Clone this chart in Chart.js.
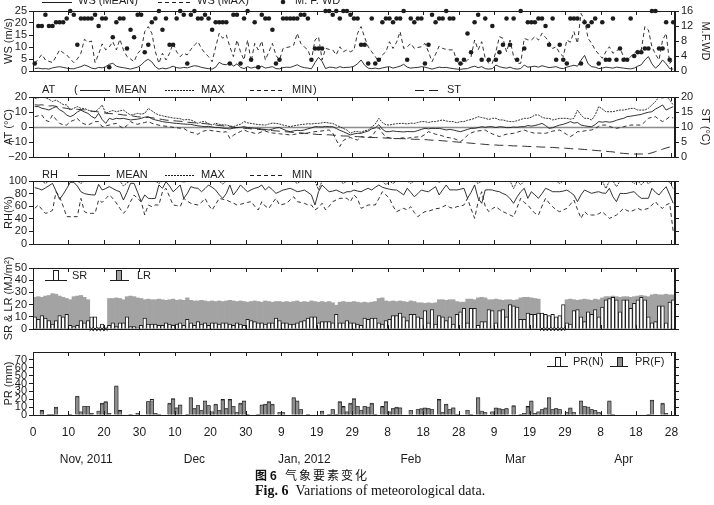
<!DOCTYPE html>
<html>
<head>
<meta charset="utf-8">
<script src="https://cdn.jsdelivr.net/npm/chart.js@4.4.0/dist/chart.umd.min.js"></script>
<style>
body { margin: 0; background: #fff; }
#wrap { position: relative; width: 714px; height: 505px; overflow: hidden; background: #fff; }
canvas { position: absolute; left: 0; }
.cap { position: absolute; left: 255px; color: #111; white-space: nowrap; line-height: 1; }
</style>
</head>
<body>
<div id="wrap">
  <canvas id="p1" width="714" height="88" style="top:-5px"></canvas>
  <canvas id="p2" width="714" height="88" style="top:81px"></canvas>
  <canvas id="p3" width="714" height="91" style="top:165px"></canvas>
  <canvas id="p4" width="714" height="89" style="top:252px"></canvas>
  <canvas id="p5" width="714" height="169" style="top:336px"></canvas>
  <div class="cap" style="top:469px;font-size:12px;font-family:'Noto Sans CJK SC',sans-serif"><b>图 6</b>&nbsp;&nbsp;&nbsp;<span style="letter-spacing:2px">气象要素变化</span></div>
  <div class="cap" style="top:484px;font-size:14px;font-family:'Liberation Serif','Times New Roman',serif"><b>Fig. 6</b>&nbsp;&nbsp;Variations of meteorological data.</div>
</div>
<script>
// axis ticks shared by all panels (x = days since 31 Oct 2011)
const xTickValues = [0, 10, 20, 30, 40, 50, 60, 70, 80, 90, 100, 110, 120, 130, 140, 150, 160, 170, 180];
const xTickLabels = ['0', '10', '20', '30', '10', '20', '30', '9', '19', '29', '8', '18', '28', '9', '19', '29', '8', '18', '28'];
const monthLabels = ['Nov, 2011', 'Dec', 'Jan, 2012', 'Feb', 'Mar', 'Apr'];
const monthMid = [15, 45.5, 76.5, 106.5, 136, 166.5];

// wind speed (m/s) and most frequent wind direction (1-16)
const wsMean = [
  1.0, 1.2, 0.9, 1.0, 0.8, 1.3, 1.6, 1.8, 1.5, 1.2,
  1.0, 0.9, 1.4, 1.8, 2.5, 2.0, 1.2, 0.9, 1.5, 1.3,
  1.8, 2.8, 3.2, 2.0, 1.6, 1.4, 1.1, 0.8, 1.2, 1.6,
  2.5, 4.0, 4.9, 3.8, 1.8, 0.8, 1.2, 0.9, 1.4, 2.0,
  1.4, 1.2, 1.5, 1.3, 1.8, 2.2, 2.0, 1.5, 1.2, 1.0,
  0.8, 1.6, 3.6, 2.8, 2.6, 3.6, 2.0, 3.0, 1.5, 1.0,
  1.8, 1.2, 1.6, 1.4, 2.0, 1.2, 1.5, 1.8, 1.0, 0.9,
  1.4, 1.6, 1.5, 2.0, 2.6, 1.8, 1.4, 1.2, 0.9, 3.5,
  5.7, 4.0, 1.0, 1.6, 1.5, 1.2, 1.8, 1.4, 1.5, 1.6,
  2.0, 3.0, 4.6, 2.4, 1.2, 1.0, 1.2, 0.9, 1.3, 1.6,
  1.8, 1.2, 1.6, 2.0, 2.8, 1.6, 1.2, 1.4, 1.5, 1.8,
  1.6, 1.2, 0.8, 1.2, 1.6, 1.4, 1.5, 1.2, 1.0, 0.8,
  0.7, 0.9, 1.0, 1.6, 2.0, 1.4, 1.8, 1.0, 0.8, 1.0,
  2.5, 1.8, 1.4, 1.2, 1.6, 1.0, 0.8, 1.0, 2.5, 1.6,
  1.8, 2.0, 1.6, 2.2, 1.8, 1.4, 1.6, 1.8, 1.2, 1.0,
  1.6, 2.0, 2.4, 2.0, 4.5, 6.5, 3.0, 1.8, 1.6, 1.0,
  1.2, 1.6, 1.4, 1.2, 1.6, 1.4, 1.2, 1.0, 0.9, 1.2,
  2.0, 2.6, 4.6, 6.0, 3.0, 1.2, 2.5, 4.6, 3.0, 1.0, 0.8
];
const wsMax = [
  3.2, 5, 6.9, 4.6, 4, 3.5, 6, 8.8, 7.6, 6.7,
  5, 3.5, 5, 7.4, 13.2, 12, 12.5, 3.5, 7, 11.3,
  8.8, 10, 12.2, 8.8, 13.2, 8.8, 6, 5, 3.9, 7.4,
  8.8, 16.4, 18.5, 15.7, 8, 3.2, 7.4, 4.6, 7.4, 11.5,
  8, 6, 7.4, 6.7, 9, 10.8, 12.2, 9.4, 7.4, 6,
  3.9, 10, 15.7, 13.6, 15, 10.1, 6, 12.9, 8, 4.6,
  12.9, 3.9, 11.5, 8.8, 12.5, 4.6, 8, 11.5, 6.5, 4.6,
  9.4, 9.8, 10.1, 10.8, 15.7, 11.5, 10, 8.8, 4.6, 12.9,
  14.3, 4.6, 9.4, 9, 8.8, 6.7, 10.1, 8, 8.8, 8,
  8.8, 15.7, 18.5, 14, 10.1, 8, 6, 3.9, 6.7, 8,
  12.2, 9.4, 12, 16.4, 9.4, 10, 11.5, 9.4, 9.8, 10.1,
  11.5, 8, 3.9, 7, 10.4, 9.4, 9, 8.8, 8.8, 3.9,
  2.5, 3.2, 4.5, 6, 12.9, 8.8, 12.2, 5.3, 3.2, 3.2,
  8, 14.3, 13.6, 8, 12.9, 6, 3.2, 3.2, 13.6, 13,
  12.9, 14.3, 12.9, 15.7, 14, 12.2, 9.4, 10.1, 7.4, 6,
  12.9, 12, 16.4, 11.5, 24, 21.3, 13.6, 11.5, 8.8, 7,
  5.3, 8, 10.1, 7.4, 8.4, 9.4, 6, 4.6, 6, 7.4,
  8.8, 8.8, 18.5, 17.1, 10.1, 7, 4.6, 12.9, 15.7, 3.2, 4.6
];
const mfwd = [
  2, 12, 12, 15, 12, 12, 13, 13, 13, 14,
  16, 15, 7, 14, 14, 14, 14, 15, 12, 14,
  14, 1, 9, 13, 14, 14, 6, 11, 9, 15,
  15, 5, 7, 13, 14, 16, 11, 14, 7, 7,
  14, 16, 15, 2, 15, 16, 14, 14, 15, 14,
  11, 13, 13, 13, 13, 2, 15, 15, 2, 14,
  16, 3, 13, 1, 15, 14, 14, 11, 2, 3,
  14, 14, 14, 14, 14, 15, 15, 14, 3, 6,
  6, 6, 16, 16, 15, 16, 14, 16, 16, 15,
  14, 14, 7, 7, 2, 14, 2, 3, 13, 14,
  14, 13, 14, 14, 16, 3, 14, 13, 14, 14,
  2, 7, 15, 13, 14, 14, 16, 14, 14, 3,
  2, 3, 10, 5, 13, 15, 3, 14, 3, 12,
  3, 5, 7, 14, 7, 14, 3, 16, 6, 13,
  13, 13, 14, 14, 12, 7, 14, 3, 7, 3,
  2, 14, 14, 14, 2, 13, 12, 13, 14, 2,
  13, 3, 3, 14, 3, 6, 3, 3, 14, 4,
  5, 5, 6, 6, 16, 16, 6, 6, 13, 3, 13
];

// air temperature (°C) and soil temperature (°C)
const atMean = [
  13.6, 13.6, 12.5, 12, 11.3, 12.5, 13.6, 11.5, 10.2, 8,
  6.9, 8, 10, 11.3, 10, 9.1, 7, 5.8, 9.1, 5,
  2.4, 5.8, 5, 5.8, 5.5, 5.8, 5.2, 4.7, 5, 5.2,
  5.8, 6.5, 6.9, 5.5, 4.7, 4.2, 3.6, 3.2, 3, 2.6,
  2.4, 2.2, 2, 1.8, 1.8, 1.2, 0.8, 0.5, 0.2, 0.4,
  0, -0.4, -0.4, -0.8, -1, -1.3, -0.8, -0.4, -0.2, 0.2,
  -0.4, -0.6, -0.9, -0.9, -1.4, -1.6, -2, -1.4, -0.6, -0.4,
  -1.5, -2.5, -3.1, -2.6, -2.2, -2.4, -2, -1.2, -0.6, 0.2,
  0.2, 0, 0.4, 0.2, 0.2, -1, -2.2, -3.1, -4.2, -5.3,
  -4.6, -4.2, -4.2, -3.4, -2.7, -1.2, -0.6, 1.5, -1.5, -3.1,
  -3.1, -2.6, -3, -3.1, -3.3, -3, -3.1, -3.1, -2.4, -1.6,
  -0.9, -1.2, -0.9, -1, -0.9, -1.4, -2, -1.6, -2, -2.6,
  -3.1, -2.4, -1.6, -0.9, -0.9, -0.4, 0.2, -0.2, 0.2, 0.2,
  -0.4, 0.2, 0, -0.4, -0.4, 0, -0.2, 0.2, 0.2, 1,
  0.6, 1, 1.6, 2.4, 1, -0.9, -0.5, 0.5, 1.3, 1.8,
  2.6, 3.6, 2.6, 3, 1.3, 0.8, 0.4, 0.2, 1.6, 3.6,
  3.2, 3.6, 3.2, 3.6, 4.5, 5.2, 5.8, 6.9, 7.2, 7.6,
  8, 8.4, 9.2, 9.8, 10.2, 12, 13.2, 14.7, 11.3, 12.5, 13.6
];
const atMax = [
  19, 19.5, 20, 19.5, 18.5, 17, 18, 16.5, 15, 14.7,
  11.3, 12.5, 13.6, 12.4, 12.4, 11.3, 10.5, 10.2, 12, 14.7,
  9.1, 10.2, 11, 10.2, 10.8, 11.3, 9.5, 8, 8.5, 9.1,
  8.6, 9.1, 12.4, 10.8, 9.1, 8, 7.5, 6.9, 6.5, 6,
  5.8, 5.5, 4.7, 5, 4.7, 3.6, 2.4, 3.5, 3.6, 2.2,
  1.3, 2.5, 1.8, 1.5, 1.3, 0.8, 0.2, 1.2, 1.8, 3.6,
  2.8, 2.4, 2, 1.6, 1.5, 1.3, 2, 2.6, 2.4, 2,
  1.3, 0.8, 0.2, 0.8, 1.2, 1.6, 1.8, 2.2, 2, 2.4,
  2.4, 2.8, 3.1, 2.6, 2.4, 1.2, 0.2, -1, -2, -4.2,
  -3.1, -3, -3.5, -2.5, -2, 0, 2, 5.8, 3, 1.5,
  1.3, 1.8, 2.2, 2.4, 2.4, 2, 2.6, 2.4, 3, 3.6,
  3.6, 3, 3.6, 3.6, 4.2, 4.7, 4, 3.6, 3.6, 2.8,
  3.6, 3.6, 4.5, 5, 5.8, 6.9, 6.3, 5.8, 5, 5.8,
  5.8, 4.7, 4.7, 4, 3.6, 3.6, 4.2, 5, 5.8, 5.8,
  6.5, 8, 8, 6.5, 5.8, 5.8, 4.7, 5.2, 5.8, 5.8,
  5.8, 5.2, 5.8, 11.3, 8, 5.8, 5.8, 4.7, 8, 13.6,
  12, 10.2, 10.2, 10.2, 10.8, 11.3, 11.3, 11.8, 12.4, 12.4,
  11.3, 11.3, 11.3, 12.5, 14.7, 17, 20.2, 19.1, 20.5, 18, 14.7
];
const atMin = [
  6.9, 7.5, 8, 4.5, 3.6, 8, 5, 2.4, 1.5, 1.3,
  3.6, 4.5, 5.8, 3, 2, 1.3, 2.5, 3.6, 3.6, 0.2,
  0.8, 1.3, 2, 2.4, 0.5, -0.9, 1, 3.6, 2.4, 1.8,
  2.5, 3, 3.6, 2.5, 1.8, 1.2, 0.8, 0.5, 0.2, -0.2,
  -0.5, -0.8, -0.9, -2.5, -3.5, -4, -4.9, -3.1, -2.5, -2,
  -2.5, -2.8, -3.1, -3.5, -3.1, -7.6, -5.5, -4.2, -3, -2,
  -3, -3.5, -4.2, -4.2, -3.2, -2.7, -3.5, -4, -4.2, -4.5,
  -4.8, -5, -5.3, -5, -4.5, -4.2, -4.2, -4, -3.5, -3.1,
  -3, -2.6, -2.2, -2, -4, -8.7, -13, -9, -7.6, -7,
  -8, -8.7, -6.4, -6.8, -7, -6.4, -3, -0.5, -4, -6.8,
  -7.2, -7.6, -7.8, -7.4, -7.2, -7.6, -7, -6.8, -6.6, -6.4,
  -5, -3.1, -4, -4.8, -5.3, -6, -6.8, -7.2, -7.6, -8.5,
  -9.8, -8, -5.5, -4, -3.1, -2.6, -2.4, -2, -3.5, -4.6,
  -5.5, -6.4, -5.5, -4.8, -4.5, -4.2, -3.5, -2.8, -2, -3,
  -3.6, -4.2, -4, -4.2, -4.2, -3.6, -2.8, -2.4, -2, -3.5,
  -5, -6.4, -5, -3.1, -3.1, -2.6, -2.2, -2, -1, 0.5,
  1.3, 1.3, 0.4, -0.4, -0.9, -0.4, 0.2, 0.8, 1.3, 1.3,
  1.3, 1.3, 3.5, 5.8, 6.4, 6.9, 5, 3.6, 5, 6.9, 6
];
const st = [
  17.4, 17.3, 17.4, 17.2, 17, 17.1, 16.9, 16.6, 16.4, 16.2,
  16, 15.9, 15.9, 15.8, 15.7, 15.5, 15.3, 15.2, 15, 14.8,
  14.6, 14.5, 14.4, 14.3, 14.2, 14, 13.9, 13.8, 13.6, 13.4,
  13.3, 13.2, 13.2, 13.1, 12.9, 12.7, 12.5, 12.3, 12.2, 12.1,
  12, 11.9, 11.8, 11.6, 11.5, 11.4, 11.3, 11.2, 11.1, 11,
  10.8, 10.7, 10.5, 10.4, 10.2, 10.1, 9.9, 9.8, 9.7, 9.6,
  9.5, 9.4, 9.3, 9.2, 9.1, 9, 8.9, 8.8, 8.7, 8.6,
  8.5, 8.4, 8.3, 8.2, 8.1, 8, 7.9, 7.8, 7.7, 7.6,
  7.5, 7.5, 7.4, 7.4, 7.3, 7.2, 7.1, 7, 7, 6.9,
  6.8, 6.8, 6.7, 6.6, 6.6, 6.5, 6.5, 6.4, 6.4, 6.3,
  6.3, 6.2, 6.2, 6.1, 6.1, 6, 6, 5.9, 5.9, 5.8,
  5.8, 5.7, 5.6, 5.6, 5.5, 5.4, 5.3, 5.2, 5.1, 5,
  4.9, 4.8, 4.7, 4.6, 4.5, 4.4, 4.3, 4.2, 4.1, 4,
  4, 3.9, 3.9, 3.8, 3.8, 3.7, 3.7, 3.6, 3.6, 3.5,
  3.5, 3.4, 3.4, 3.3, 3.3, 3.2, 3.2, 3.1, 3, 3,
  2.9, 2.8, 2.7, 2.7, 2.6, 2.5, 2.4, 2.3, 2.2, 2.1,
  2, 1.9, 1.8, 1.7, 1.5, 1.3, 1.2, 1.1, 1, 1,
  1, 1, 1, 1.1, 1.4, 1.8, 2.2, 2.6, 3, 3.3, 3.6
];

// relative humidity (%)
const rhMean = [
  89.4, 88, 85.7, 89, 92.6, 96.3, 84, 70.9, 78.8, 88,
  97.9, 97.9, 92, 83, 80, 78.8, 78, 77.8, 94.7, 85.7,
  88, 91, 88, 85, 83, 69.8, 82, 96.3, 96.3, 82,
  67.2, 77.8, 72.5, 72, 72.5, 93.7, 88.4, 98.9, 92, 83,
  88, 93.7, 72.5, 80, 91, 89, 88.4, 83, 88, 93.7,
  90, 85.7, 78, 72.5, 80, 93.7, 77.8, 85, 93.7, 88,
  83, 86, 88.4, 90, 93.7, 85.7, 91, 86, 80.4, 83,
  85.7, 87, 88.4, 86, 83, 84, 85.7, 82, 77.8, 61.9,
  83, 93.7, 88, 83, 84, 85.7, 83, 80.4, 83, 83,
  85.7, 84, 83, 86, 88.4, 85.7, 90, 93.7, 90, 88.4,
  87, 86, 85.7, 82, 77.8, 88.4, 82, 75, 80, 85.7,
  84, 83, 87, 91, 77.8, 86, 93.7, 85.7, 86, 85.7,
  87, 88.4, 72.5, 82, 93.7, 72.5, 64.6, 85.7, 86, 85.7,
  84, 83, 80, 77.8, 72, 64.6, 75, 83, 88.4, 72.5,
  83, 78, 72.5, 80, 88.4, 86, 83, 83, 83, 84,
  85.7, 82, 77.8, 67.2, 78, 85.7, 83, 80.4, 82, 83,
  81, 80.4, 88.4, 75, 67.2, 80.4, 80, 80.4, 82, 83,
  77, 72.5, 72.5, 72.5, 88.4, 82, 77.8, 85, 91, 78, 64.6
];
const rhMax = [
  100, 100, 100, 96, 100, 100, 100, 100, 100, 100,
  100, 100, 100, 96, 100, 100, 100, 100, 100, 100,
  100, 100, 100, 100, 100, 92, 97, 100, 100, 100,
  100, 100, 100, 100, 100, 96, 100, 100, 100, 100,
  100, 100, 98, 100, 100, 100, 100, 100, 100, 100,
  100, 100, 100, 95, 100, 100, 100, 100, 100, 100,
  100, 100, 100, 100, 100, 100, 100, 100, 100, 100,
  100, 100, 100, 100, 96, 100, 100, 100, 100, 100,
  86, 100, 100, 100, 100, 100, 100, 96, 100, 100,
  100, 98, 100, 100, 100, 100, 100, 100, 100, 94,
  100, 96, 100, 100, 100, 100, 96, 100, 100, 100,
  100, 100, 100, 100, 98, 100, 100, 100, 100, 100,
  100, 100, 100, 100, 100, 96, 100, 100, 100, 100,
  100, 100, 100, 100, 100, 88, 100, 94, 100, 100,
  100, 100, 100, 100, 100, 100, 100, 100, 96, 100,
  100, 100, 100, 100, 100, 100, 100, 100, 100, 100,
  100, 88, 100, 100, 91, 100, 100, 100, 100, 96,
  100, 94, 100, 96, 100, 100, 100, 100, 100, 98, 88
];
const rhMin = [
  56.6, 61.9, 55, 48.7, 50, 53.4, 83, 75, 60, 43.4,
  43.4, 43.4, 43.4, 72.5, 51.3, 48.7, 48.7, 48.7, 69.8, 66,
  72, 77.8, 72.5, 65, 56.6, 48.7, 55, 67.2, 77.8, 72,
  67.2, 46, 61.9, 59.3, 62, 61.9, 83, 88.4, 75, 61.9,
  61, 59.3, 72.5, 68, 64.6, 63, 61.9, 66, 72.5, 62,
  54, 63, 72.5, 71, 69.8, 67.2, 65, 61.9, 63, 64.6,
  66, 67.2, 60, 54, 67.2, 60, 56.6, 65, 72.5, 61.9,
  63, 64.6, 70, 75, 67.2, 66, 64.6, 62, 61.9, 54,
  58, 64.6, 54, 60, 67.2, 70, 72.5, 72.5, 72.5, 67.2,
  77.8, 72, 56.6, 59, 61.9, 62, 61.9, 72, 83, 78,
  72.5, 60, 51.3, 54, 56.6, 54, 59.3, 50, 43.4, 48,
  51.3, 52, 54, 56, 56.6, 59, 61.9, 58, 56.6, 59.3,
  60, 61.9, 72.5, 56, 40.7, 67.2, 83, 60, 51.3, 56,
  59.3, 55, 51.3, 48.7, 46, 43.4, 58, 72.5, 66, 61.9,
  55, 48.7, 46, 60, 72.5, 65, 59.3, 54, 51.3, 54,
  56.6, 63, 69.8, 55, 40.7, 51.3, 46, 46, 46, 48,
  51.3, 46, 40.7, 43, 46, 51, 56.6, 53, 51.3, 54,
  56.6, 54, 55, 56.6, 62, 67.2, 60, 56.6, 62, 64.6, 19.6
];

// solar and long-wave radiation (MJ/m2), null = not recorded
const sr = [
  10, 8, 11, 9, 7, 4, 7, 11, 10, 12,
  3, 2, 3, 7, 5, 7, 10, 10, 1, 4,
  1, 3, 5, 2, 5, 5, 10, 2, 2, 1,
  3, 9, 4, 4, 4, 3, 3, 5, 4, 3,
  4, 5, 3, 8, 5, 3, 6, 4, 5, 3,
  5, 5, 4, 5, 5, 4, 3, 5, 4, 3,
  8, 7, 6, 5, 5, 4, 5, 5, 9, 7,
  5, 5, 4, 4, 5, 6, 7, 9, 10, 10,
  5, 6, 6, 6, 5, 12, 5, 5, 7, 5,
  5, 4, 3, 9, 8, 9, 9, 5, 4, 7,
  8, 11, 11, 13, 10, 7, 12, 12, 10, 9,
  15, 5, 16, 4, 11, 10, 7, 10, 4, 12,
  14, 17, 5, 17, 17, 3, 6, 6, 16, 15,
  5, 15, 16, 10, 20, 19, 18, 8, 8, 13,
  12, 12, 13, 13, 12, 11, 12, 10, 11, 20,
  5, 4, 15, 16, 10, 6, 14, 12, 16, 10,
  18, 24, 25, 26, 24, 14, 24, 24, 17, 21,
  24, 26, 24, 10, 5, 6, 19, 19, 5, 22, 24
];
const lr = [
  26, 26.5, 26, 27, 27.5, 29, 28.5, 27, 26, 25,
  24, 26.5, 27, 27.5, 26, 24, null, null, null, null,
  null, 25, 25, 25.5, 25, 24, 26.5, 27, 26.5, 25.5,
  25, 24, 24.5, 24, 24, 24.5, 24, 23.5, 24, 24.5,
  23.5, 24, 23.5, 25.5, 23.5, 23, 23, 23.5, 23, 22.5,
  23, 22.5, 23, 22.5, 23, 23.5, 23, 22.5, 23, 22.5,
  22, 22.5, 23, 22.5, 22, 23, 22.5, 22, 22.5, 22.5,
  22, 22.5, 22, 22.5, 23, 22, 22.5, 22, 23, 22.5,
  22, 22.5, 22, 22.5, 21.5, 19.5, 22, 22.5, 22, 22,
  22.5, 22, 21.5, 22, 21.5, 22, 22.5, 25, 25.5, 23,
  22.5, 23, 22.5, 23, 22.5, 22, 23, 22.5, 21.5, 21.5,
  21, 21.5, 21, 21.5, 24, 24, 23.5, 24, 24, 22.5,
  22, 22, 24.5, 24.5, 24, 25.5, 26, 25.5, 24, 24,
  24.5, 24, 23.5, 24, 24, 23.5, 24, 25.5, 26, 26,
  25.5, 25, 24.5, null, null, null, null, null, null, null,
  24, 24.5, 24, 23.5, 24, 24.5, 24, 23.5, 24.5, 24,
  25.5, 26.5, 26.5, 27, 26.5, 26, 26.5, 26.5, 26, 26.5,
  27, 27.5, 27, 26.5, 28, 28.5, 28, 28, 28.5, 28, 28
];

// precipitation (mm): N and F gauges
const prN = [
  0, 0, 6, 0, 1, 1, 10, 0, 0, 0,
  1, 0, 24, 4, 11, 11, 2, 0, 5, 15,
  17, 2, 0, 37, 6, 0, 0, 1, 0, 2,
  0, 0, 17, 20, 2, 1, 0, 0, 15, 21,
  9, 13, 0, 1, 22, 8, 12, 6, 18, 12,
  4, 14, 6, 20, 8, 20, 11, 3, 15, 18,
  1, 0, 0, 1, 13, 14, 17, 14, 0, 3,
  3, 0, 0, 22, 18, 7, 0, 1, 0, 0,
  0, 5, 0, 1, 7, 1, 17, 11, 4, 15,
  21, 11, 6, 11, 10, 15, 1, 0, 11, 17,
  4, 8, 10, 9, 0, 0, 6, 0, 7, 8,
  9, 8, 7, 0, 20, 3, 14, 7, 9, 1,
  0, 0, 6, 1, 0, 22, 5, 3, 0, 4,
  9, 8, 7, 8, 0, 12, 0, 1, 2, 11,
  18, 2, 4, 7, 9, 22, 7, 8, 7, 0,
  3, 9, 3, 0, 18, 11, 10, 7, 6, 3,
  0, 0, 18, 1, 0, 0, 0, 0, 0, 0,
  0, 0, 0, 1, 19, 0, 0, 15, 2, 0, 0
];
const prF = [
  0, 0, 5, 0, 1, 1, 9, 0, 0, 0,
  1, 0, 23, 4, 11, 11, 2, 0, 5, 14,
  16, 2, 0, 36, 5, 0, 0, 1, 0, 2,
  0, 0, 17, 18, 2, 1, 0, 0, 14, 20,
  9, 12, 0, 1, 21, 8, 12, 6, 17, 12,
  4, 13, 6, 19, 8, 19, 11, 3, 14, 17,
  1, 0, 0, 1, 12, 13, 16, 13, 0, 3,
  3, 0, 0, 21, 17, 7, 0, 1, 0, 0,
  0, 4, 0, 1, 7, 1, 16, 10, 4, 14,
  20, 11, 6, 11, 10, 14, 1, 0, 10, 16,
  4, 8, 9, 9, 0, 0, 6, 0, 7, 7,
  8, 8, 7, 0, 19, 3, 13, 7, 9, 1,
  0, 0, 6, 1, 0, 21, 5, 3, 0, 4,
  8, 7, 7, 8, 0, 11, 0, 1, 2, 10,
  17, 2, 4, 7, 8, 21, 7, 8, 7, 0,
  3, 8, 3, 0, 17, 11, 10, 7, 6, 3,
  0, 0, 17, 1, 0, 0, 0, 0, 0, 0,
  0, 0, 0, 1, 18, 0, 0, 14, 2, 0, 0
];

const INK = '#1c1c1c';
const SANS = "'Liberation Sans', Arial, sans-serif";
const NARROW = "'Liberation Sans Narrow', 'Liberation Sans', Arial, sans-serif";

Chart.defaults.font.family = SANS;
Chart.defaults.font.size = 11;
Chart.defaults.color = INK;

// each value sits in the middle of its day
const pts = arr => arr.map((v, i) => ({ x: i + 0.5, y: v }));
const barPts = arr => arr.map((v, i) => ({ x: i + 0.5, y: v === 0 ? null : v }));

function yAxis(pos, min, max, step, title, opt) {
  opt = opt || {};
  const s = {
    position: pos, min: min, max: max,
    afterFit: sc => { sc.width = pos === 'left' ? 33 : 39; },
    ticks: { stepSize: step, padding: 2, color: INK, autoSkip: false, callback: opt.cb || (v => v) },
    grid: { drawOnChartArea: false, drawTicks: true, tickLength: 4, color: INK },
    border: { display: true, color: INK },
    title: title ? { display: true, text: title, color: INK, padding: { top: 2, bottom: 0 } } : { display: false }
  };
  if (opt.ticks) s.afterBuildTicks = sc => { sc.ticks = opt.ticks.map(v => ({ value: v })); };
  return s;
}
const noLabel = () => '';
const minus = v => (v < 0 ? '\u2212' + Math.abs(v) : '' + v);

const hiddenX = { type: 'linear', min: 0, max: 181, offset: false, display: false };

const decor = {
  id: 'decor',
  beforeDatasetsDraw(chart, args, o) {
    if (o.zeroAt == null) return;
    const { ctx, chartArea: a } = chart;
    const y = Math.round(chart.scales.y.getPixelForValue(o.zeroAt)) + 0.5;
    ctx.save();
    ctx.strokeStyle = '#8c8c8c';
    ctx.lineWidth = 1.6;
    ctx.beginPath(); ctx.moveTo(a.left, y); ctx.lineTo(a.right, y); ctx.stroke();
    ctx.restore();
  },
  afterDraw(chart, args, o) {
    const { ctx, chartArea: a } = chart;
    const sx = chart.scales.x;
    const oy = o.top;
    ctx.save();
    ctx.strokeStyle = INK;
    ctx.lineWidth = 1;
    ctx.strokeRect(a.left + 0.5, a.top + 0.5, a.right - a.left - 1, a.bottom - a.top);
    ctx.beginPath();
    xTickValues.forEach(v => {
      const px = Math.round(sx.getPixelForValue(v)) + 0.5;
      ctx.moveTo(px, a.top); ctx.lineTo(px, a.top + 4);
      ctx.moveTo(px, a.bottom); ctx.lineTo(px, a.bottom - 4);
    });
    ctx.stroke();

    ctx.font = '11px ' + SANS;
    ctx.fillStyle = INK;
    (o.items || []).forEach(it => {
      if (it.t === 'text') {
        ctx.textAlign = 'left';
        ctx.textBaseline = it.base || 'middle';
        ctx.fillText(it.s, it.x, it.y - oy);
      } else if (it.t === 'line') {
        ctx.setLineDash(it.dash || []);
        ctx.beginPath(); ctx.moveTo(it.x1, it.y - oy + 0.5); ctx.lineTo(it.x2, it.y - oy + 0.5); ctx.stroke();
        ctx.setLineDash([]);
      } else if (it.t === 'dot') {
        ctx.beginPath(); ctx.arc(it.x, it.y - oy, 2.3, 0, Math.PI * 2); ctx.fill();
      } else if (it.t === 'bar') {
        ctx.beginPath(); ctx.moveTo(it.x1, it.y2 - oy + 0.5); ctx.lineTo(it.x2, it.y2 - oy + 0.5); ctx.stroke();
        ctx.fillStyle = it.fill;
        ctx.fillRect(it.bx, it.y1 - oy, it.bw, it.y2 - it.y1);
        ctx.strokeRect(it.bx + 0.5, it.y1 - oy + 0.5, it.bw - 1, it.y2 - it.y1);
        ctx.fillStyle = INK;
      }
    });
    if (o.months) {
      ctx.font = '12px ' + NARROW;
      ctx.textAlign = 'center';
      ctx.textBaseline = 'middle';
      monthLabels.forEach((m, i) => ctx.fillText(m, sx.getPixelForValue(monthMid[i]), 460 - oy));
    }
    ctx.restore();
  }
};

function panel(id, top, bottomPad, datasets, scales, deco) {
  deco.top = top;
  return new Chart(document.getElementById(id), {
    type: 'line',
    data: { datasets: datasets },
    options: {
      responsive: false, animation: false, devicePixelRatio: 1,
      layout: { padding: { top: 16, bottom: bottomPad, left: 0, right: 0 } },
      elements: { point: { radius: 0 }, line: { tension: 0 } },
      plugins: { legend: { display: false }, tooltip: { enabled: false }, decor: deco },
      scales: scales
    },
    plugins: [decor]
  });
}

const lineDs = (arr, dash, axis) => ({
  type: 'line', data: pts(arr), yAxisID: axis || 'y', borderColor: INK,
  borderWidth: 0.9, borderDash: dash || [], pointRadius: 0, spanGaps: true
});

// panel 1: wind
panel('p1', -5, 12, [
  { type: 'line', data: pts(mfwd), yAxisID: 'y2', showLine: false, pointRadius: 2.3,
    pointBackgroundColor: INK, pointBorderWidth: 0, clip: false },
  lineDs(wsMax, [4, 3]),
  lineDs(wsMean)
], {
  x: hiddenX,
  y: yAxis('left', 0, 25, 5, 'WS (m/s)'),
  y2: yAxis('right', 0, 16, 4, 'M.F.WD')
}, {
  items: [
    { t: 'line', x1: 42, x2: 72, y: 2 }, { t: 'text', s: 'WS (MEAN)', x: 78, y: 4, base: 'alphabetic' },
    { t: 'line', x1: 158, x2: 190, y: 2, dash: [4, 3] }, { t: 'text', s: 'WS (MAX)', x: 197, y: 4, base: 'alphabetic' },
    { t: 'dot', x: 283, y: 2 }, { t: 'text', s: 'M. F. WD', x: 295, y: 4, base: 'alphabetic' }
  ]
});

// panel 2: air and soil temperature
panel('p2', 81, 12, [
  lineDs(atMax, [2, 1]),
  lineDs(atMean),
  lineDs(atMin, [4, 3]),
  lineDs(st, [9, 5], 'y2')
], {
  x: hiddenX,
  y: yAxis('left', -20, 20, 10, 'AT (°C)', { cb: minus }),
  y2: yAxis('right', 0, 20, 5, 'ST (°C)')
}, {
  zeroAt: 0,
  items: [
    { t: 'text', s: 'AT', x: 42, y: 90 }, { t: 'text', s: '(', x: 74, y: 90 },
    { t: 'line', x1: 80, x2: 110, y: 90 }, { t: 'text', s: 'MEAN', x: 115, y: 90 },
    { t: 'line', x1: 165, x2: 195, y: 90, dash: [2, 1] }, { t: 'text', s: 'MAX', x: 201, y: 90 },
    { t: 'line', x1: 250, x2: 283, y: 90, dash: [4, 3] }, { t: 'text', s: 'MIN', x: 292, y: 90 },
    { t: 'text', s: ')', x: 313, y: 90 },
    { t: 'line', x1: 415, x2: 441, y: 90, dash: [9, 5] }, { t: 'text', s: 'ST', x: 447, y: 90 }
  ]
});

// panel 3: relative humidity
panel('p3', 165, 12, [
  lineDs(rhMax, [2, 1]),
  lineDs(rhMean),
  lineDs(rhMin, [4, 3])
], {
  x: hiddenX,
  y: yAxis('left', 0, 100, 20, 'RH(%)'),
  y2: yAxis('right', 0, 100, 20, null, { cb: noLabel })
}, {
  items: [
    { t: 'text', s: 'RH', x: 42, y: 175 },
    { t: 'line', x1: 78, x2: 110, y: 175 }, { t: 'text', s: 'MEAN', x: 116, y: 175 },
    { t: 'line', x1: 165, x2: 195, y: 175, dash: [2, 1] }, { t: 'text', s: 'MAX', x: 201, y: 175 },
    { t: 'line', x1: 250, x2: 283, y: 175, dash: [4, 3] }, { t: 'text', s: 'MIN', x: 292, y: 175 }
  ]
});

// panel 4: radiation
const lrMissing = lr.map((v, i) => (v === null ? { x: i + 0.5, y: 0 } : null)).filter(Boolean);
panel('p4', 252, 12, [
  { type: 'line', data: lrMissing, showLine: false, pointStyle: 'crossRot', pointRadius: 2.6,
    borderColor: INK, borderWidth: 1, clip: false },
  { type: 'bar', data: barPts(sr), backgroundColor: '#ffffff', borderColor: INK, borderWidth: 1,
    barPercentage: 1, categoryPercentage: 1, grouped: false },
  { type: 'bar', data: barPts(lr), backgroundColor: '#a3a3a3', borderWidth: 0,
    barPercentage: 1, categoryPercentage: 1, grouped: false }
], {
  x: hiddenX,
  y: yAxis('left', 0, 50, 10, 'SR & LR (MJ/m²)'),
  y2: yAxis('right', 0, 50, 10, null, { cb: noLabel })
}, {
  items: [
    { t: 'bar', x1: 45, x2: 67, bx: 53, bw: 6, y1: 270, y2: 280, fill: '#ffffff' },
    { t: 'text', s: 'SR', x: 72, y: 276 },
    { t: 'bar', x1: 110, x2: 129, bx: 116, bw: 6, y1: 270, y2: 280, fill: '#a3a3a3' },
    { t: 'text', s: 'LR', x: 137, y: 276 }
  ]
});

// panel 5: precipitation with the shared date axis
const prTicks = [0, 10, 20, 30, 40, 50, 60, 70];
panel('p5', 336, 60, [
  { type: 'bar', data: barPts(prF), backgroundColor: '#8f8f8f', borderColor: '#3a3a3a', borderWidth: 0.8,
    barPercentage: 1, categoryPercentage: 1, grouped: false },
  { type: 'bar', data: barPts(prN), backgroundColor: '#ffffff', borderColor: INK, borderWidth: 1,
    barPercentage: 1, categoryPercentage: 1, grouped: false }
], {
  x: {
    type: 'linear', min: 0, max: 181, offset: false,
    afterBuildTicks: sc => { sc.ticks = xTickValues.map(v => ({ value: v })); },
    afterFit: sc => { sc.height = 30; },
    ticks: { callback: (v, i) => xTickLabels[i], padding: 2, maxRotation: 0, autoSkip: false, color: INK,
      font: { family: NARROW, size: 12 } },
    grid: { display: false, offset: false },
    border: { display: false }
  },
  y: yAxis('left', 0, 80, 10, 'PR (mm)', { ticks: prTicks }),
  y2: yAxis('right', 0, 80, 10, null, { ticks: prTicks, cb: noLabel })
}, {
  months: true,
  items: [
    { t: 'bar', x1: 547, x2: 568, bx: 555, bw: 6, y1: 357, y2: 366, fill: '#ffffff' },
    { t: 'text', s: 'PR(N)', x: 573, y: 362 },
    { t: 'bar', x1: 610, x2: 628, bx: 617, bw: 6, y1: 357, y2: 366, fill: '#8f8f8f' },
    { t: 'text', s: 'PR(F)', x: 635, y: 362 }
  ]
});
</script>
</body>
</html>
